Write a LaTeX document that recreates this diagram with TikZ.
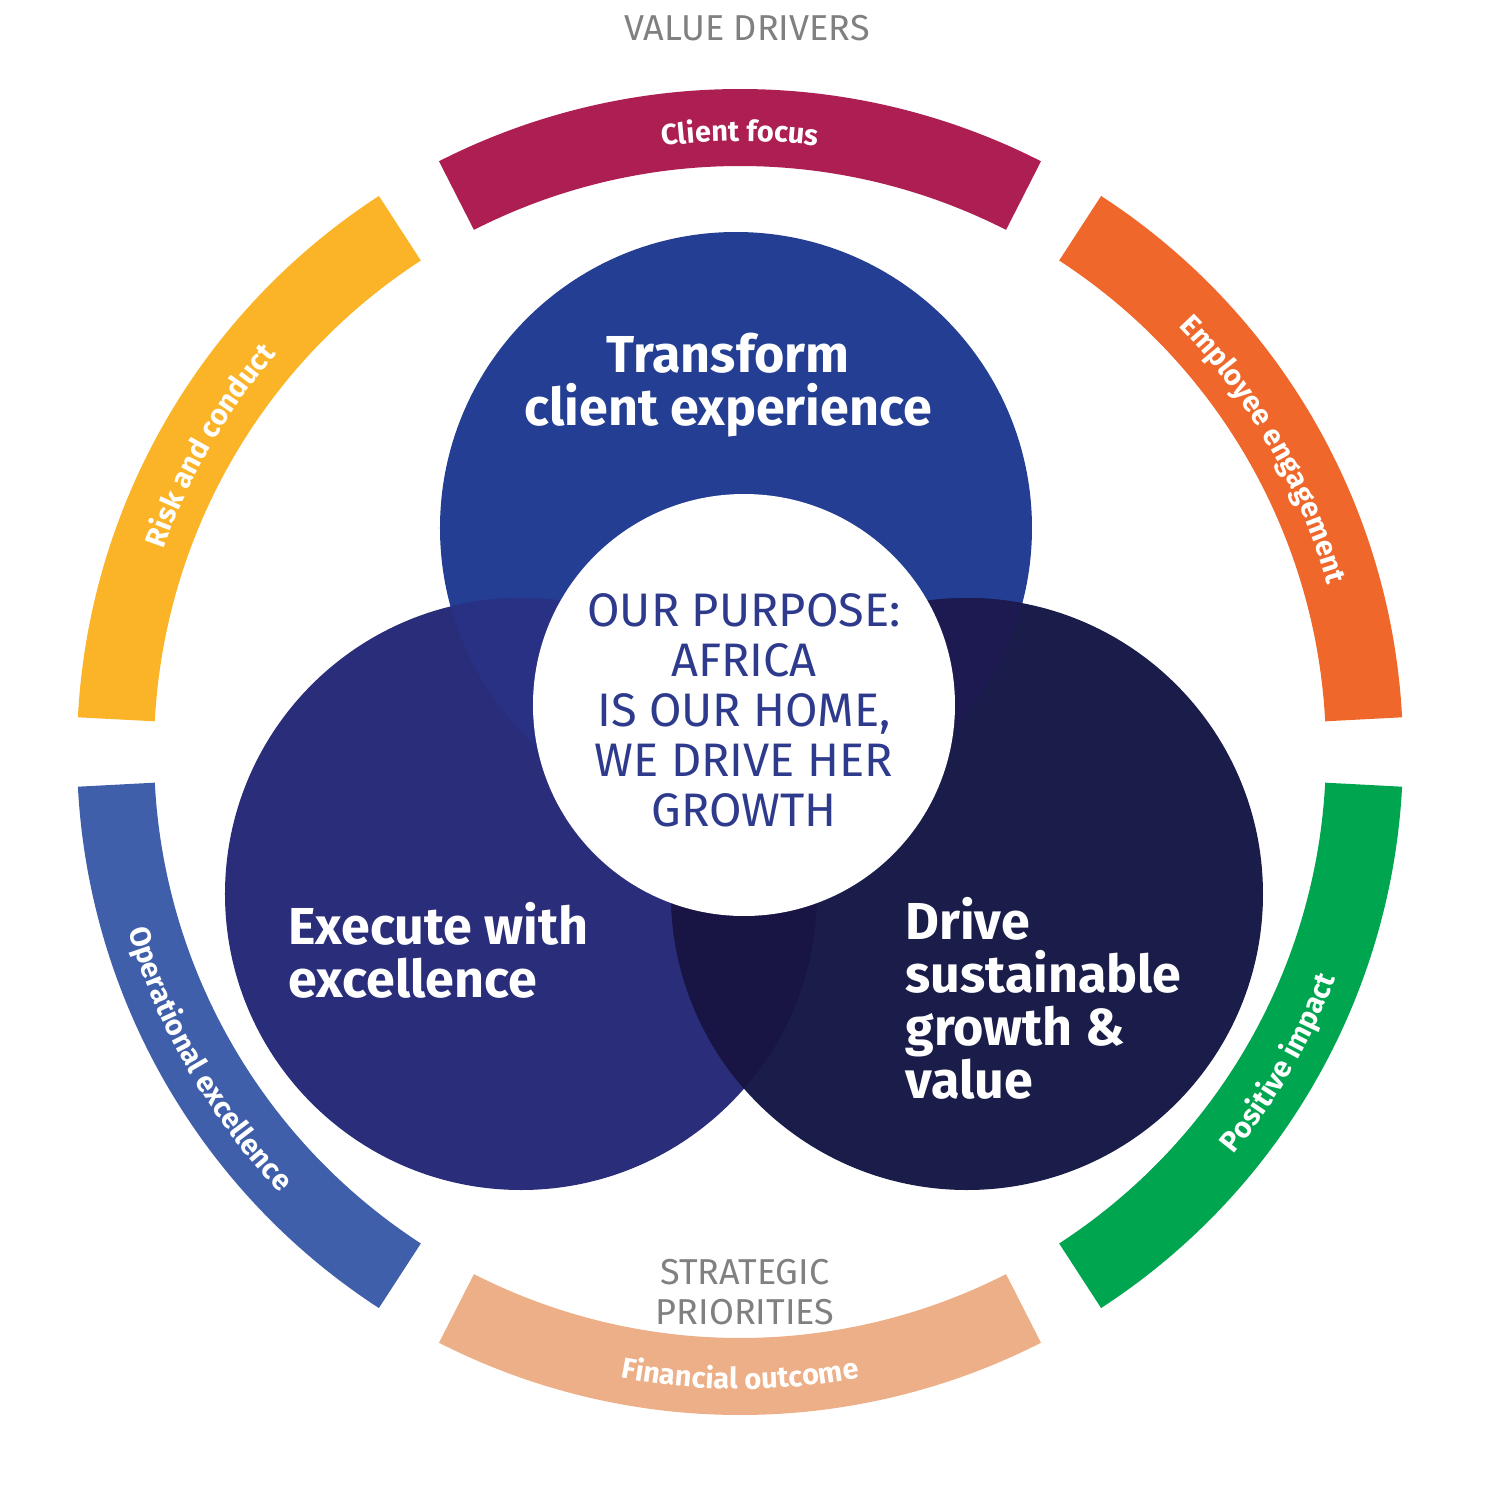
\documentclass[tikz,border=0pt]{standalone}
\usepackage{fontspec}
\setmainfont{Fira Sans}
\usetikzlibrary{decorations.text}
\definecolor{cf}{HTML}{AD1E52}
\definecolor{ee}{HTML}{F0672B}
\definecolor{rc}{HTML}{FBB427}
\definecolor{oe}{HTML}{3F5FAA}
\definecolor{pi}{HTML}{00A54F}
\definecolor{fo}{HTML}{EDAF87}
\definecolor{ctop}{HTML}{233E92}
\definecolor{cleft}{HTML}{2A2E7A}
\definecolor{cright}{HTML}{1A1D4A}
\definecolor{otl}{HTML}{283184}
\definecolor{otr}{HTML}{1C1A50}
\definecolor{olr}{HTML}{181444}
\definecolor{ptxt}{HTML}{2E3A8C}
\definecolor{gtxt}{HTML}{808080}
\newcommand{\arcf}{\bfseries\fontsize{29}{29}\selectfont}
\tikzset{
 arctext/.style={decorate,decoration={text along path,text align=center,text color=white,text={|\arcf|#1}}},
 big/.style={text=white,font=\bfseries\fontsize{52}{53}\selectfont,align=left},
}
\newcommand{\segm}[3]{\fill[#1] (#2:586) arc[start angle=#2,end angle=#3,radius=586] -- (#3:663) arc[start angle=#3,end angle=#2,radius=663] -- cycle;}
\begin{document}
\begin{tikzpicture}[x=1pt,y=1pt]
\useasboundingbox (-740,-748) rectangle (748,752);
\segm{ee}{3}{57}
\segm{cf}{63}{117}
\segm{rc}{123}{177}
\segm{oe}{183}{237}
\segm{fo}{243}{297}
\segm{pi}{303}{357}
\path[arctext={Client focus}] (110:611) arc[start angle=110,end angle=70,radius=611];
\path[arctext={Employee engagement}] (55:611) arc[start angle=55,end angle=5,radius=611];
\path[arctext={Risk and conduct}] (175:611) arc[start angle=175,end angle=125,radius=611];
\path[arctext={Operational excellence}] (185:637) arc[start angle=185,end angle=235,radius=637];
\path[arctext={Financial outcome}] (245:637) arc[start angle=245,end angle=295,radius=637];
\path[arctext={Positive impact}] (305:637) arc[start angle=305,end angle=355,radius=637];
\coordinate (T) at (-4,224);
\coordinate (L) at (-219,-142);
\coordinate (R) at (227,-142);
\coordinate (W) at (4,47);
\fill[ctop] (T) circle[radius=296];
\fill[cleft] (L) circle[radius=296];
\fill[cright] (R) circle[radius=296];
\begin{scope}\clip (T) circle[radius=296]; \fill[otl] (L) circle[radius=296]; \fill[otr] (R) circle[radius=296];\end{scope}
\begin{scope}\clip (L) circle[radius=296]; \fill[olr] (R) circle[radius=296];\end{scope}
\fill[white] (W) circle[radius=211];
\node[big,align=center] (tt) at (-12,367) {Transform\\client experience};
\node[big,anchor=west] (te) at (-455,-198) {Execute with\\excellence};
\node[big,anchor=west] (td) at (162,-246) {Drive\\sustainable\\growth \&\\value};
\node[text=ptxt,align=center,font=\fontsize{47}{50}\selectfont] (tp) at (4,42) {OUR PURPOSE:\\AFRICA\\IS OUR HOME,\\WE DRIVE HER\\GROWTH};
\node[text=gtxt,font=\fontsize{36}{38}\selectfont] (vd) at (7,724) {VALUE DRIVERS};
\node[text=gtxt,align=center,font=\fontsize{36}{40}\selectfont] (sp) at (5,-540) {STRATEGIC\\PRIORITIES};
\end{tikzpicture}
\end{document}
